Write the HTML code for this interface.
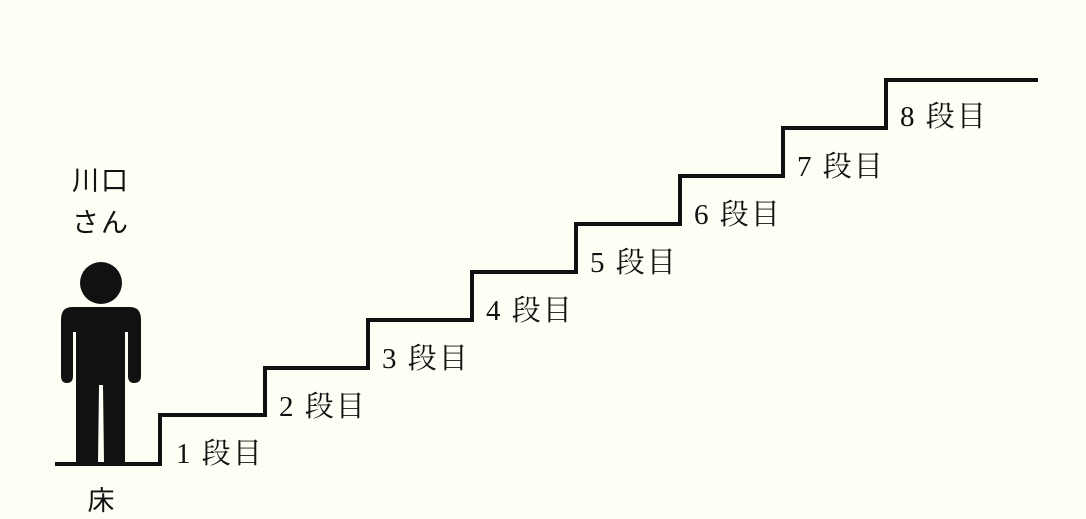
<!DOCTYPE html>
<html><head><meta charset="utf-8"><style>
html,body{margin:0;padding:0;background:#fefef4;}
svg{display:block}
text{font-family:"Liberation Serif","Noto Serif CJK SC","Noto Sans CJK JP",serif;font-size:29px;fill:#111;letter-spacing:2px}
</style></head><body>
<svg width="1086" height="519" viewBox="0 0 1086 519">
<rect width="1086" height="519" fill="#fefef4"/>
<polyline fill="none" stroke="#111" stroke-width="4" points="55,464 160,464 160,415 265,415 265,368 368,368 368,320 472,320 472,272 576,272 576,224 680,224 680,176 783,176 783,128 886,128 886,80 1038,80"/>
<g fill="#111">
<circle cx="101" cy="283" r="21"/>
<path d="M72,307 L130,307 Q141,307 141,320 L141,376 Q141,383 134,383 Q128,383 128,376 L128,332 L125,332 L125,462 L104,462 L103,385 L99,385 L98,462 L76,462 L76,332 L73,332 L73,376 Q73,383 67,383 Q61,383 61,376 L61,320 Q61,307 72,307 Z"/>
</g>
<text x="101" y="190" text-anchor="middle" style="font-family:'Noto Sans CJK JP',sans-serif;font-size:27px">川口</text>
<text x="101" y="232" text-anchor="middle" style="font-family:'Noto Sans CJK JP',sans-serif;font-size:27px">さん</text>
<text x="101" y="510" text-anchor="middle" style="font-family:'Noto Sans CJK JP',sans-serif;font-size:27px;letter-spacing:0">床</text>
<text x="176" y="463">1 段目</text>
<text x="279" y="416">2 段目</text>
<text x="382" y="368">3 段目</text>
<text x="486" y="320">4 段目</text>
<text x="590" y="272">5 段目</text>
<text x="694" y="224">6 段目</text>
<text x="797" y="176">7 段目</text>
<text x="900" y="126">8 段目</text>
</svg>
</body></html>
